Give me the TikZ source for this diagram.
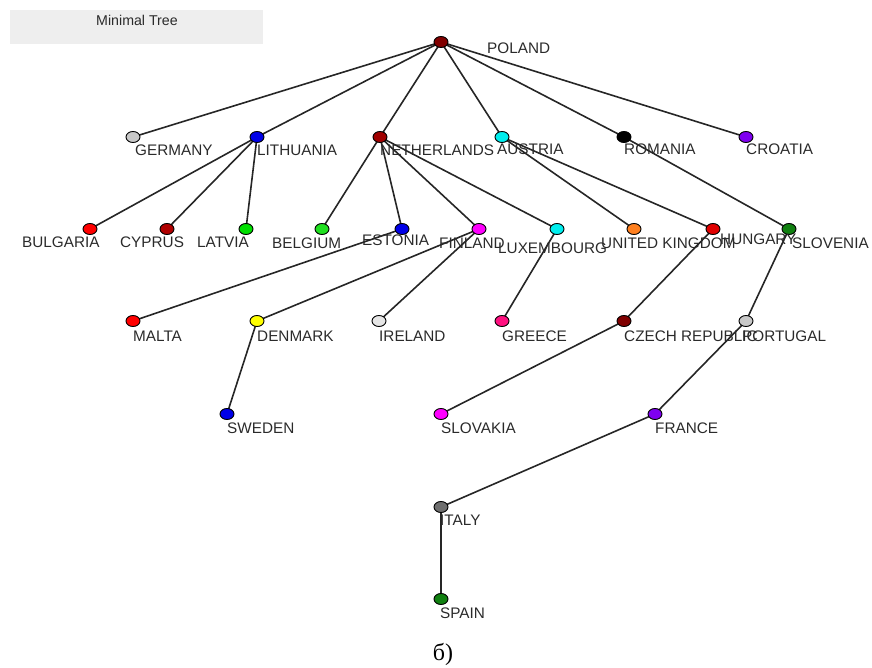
\documentclass[tikz,border=0pt]{standalone}
\usepackage{fontspec}
\setmainfont{Liberation Sans}
\newfontfamily\seriffont{Liberation Serif}
\usetikzlibrary{shapes.geometric}
\pgfdeclarelayer{bg}
\pgfsetlayers{bg,main}
\definecolor{labelgray}{HTML}{2A2A2A}
\definecolor{titlebg}{HTML}{EEEEEE}
\definecolor{cPol}{HTML}{800000}
\definecolor{cGer}{HTML}{C8C8C8}
\definecolor{cBlue}{HTML}{0000E8}
\definecolor{cNet}{HTML}{A00000}
\definecolor{cCyan}{HTML}{00EEEE}
\definecolor{cPurple}{HTML}{7F00F0}
\definecolor{cRed}{HTML}{FF0000}
\definecolor{cCyp}{HTML}{B00000}
\definecolor{cGreen}{HTML}{00E000}
\definecolor{cBel}{HTML}{20E020}
\definecolor{cMag}{HTML}{FF00FF}
\definecolor{cOrange}{HTML}{FF8020}
\definecolor{cHun}{HTML}{E00000}
\definecolor{cDkGreen}{HTML}{108010}
\definecolor{cYellow}{HTML}{FFFF00}
\definecolor{cIre}{HTML}{E6E6E6}
\definecolor{cGre}{HTML}{FF1080}
\definecolor{cIta}{HTML}{6E6E6E}
\begin{document}
\begin{tikzpicture}[x=1pt,y=-1pt,
  vtx/.style={ellipse,draw=black,line width=0.9pt,minimum width=14pt,minimum height=11pt,inner sep=0pt},
  lbl/.style={anchor=west,inner sep=0pt,text=labelgray,font=\fontsize{15.3}{15.3}\selectfont},
  edge/.style={line width=1.6pt,black!85}]
\useasboundingbox (0,0) rectangle (872,668);
% title box
\node[fill=titlebg,minimum width=253pt,minimum height=34pt,inner sep=0pt,anchor=north west] (titlebox) at (10,10) {};
\node[text=labelgray,font=\fontsize{14.2}{14.2}\selectfont,inner sep=0pt] (title) at (137,20) {Minimal Tree};
% vertices
\node[vtx,fill=cPol] (pol) at (441,42) {};
\node[vtx,fill=cGer] (ger) at (133,137) {};
\node[vtx,fill=cBlue] (lit) at (257,137) {};
\node[vtx,fill=cNet] (net) at (380,137) {};
\node[vtx,fill=cCyan] (aut) at (502,137) {};
\node[vtx,fill=black] (rom) at (624,137) {};
\node[vtx,fill=cPurple] (cro) at (746,137) {};
\node[vtx,fill=cRed] (bul) at (90,229) {};
\node[vtx,fill=cCyp] (cyp) at (167,229) {};
\node[vtx,fill=cGreen] (lat) at (246,229) {};
\node[vtx,fill=cBel] (bel) at (322,229) {};
\node[vtx,fill=cBlue] (est) at (402,229) {};
\node[vtx,fill=cMag] (fin) at (479,229) {};
\node[vtx,fill=cCyan] (lux) at (557,229) {};
\node[vtx,fill=cOrange] (uk) at (634,229) {};
\node[vtx,fill=cHun] (hun) at (713,229) {};
\node[vtx,fill=cDkGreen] (slo) at (789,229) {};
\node[vtx,fill=cRed] (mal) at (133,321) {};
\node[vtx,fill=cYellow] (den) at (257,321) {};
\node[vtx,fill=cIre] (ire) at (379,321) {};
\node[vtx,fill=cGre] (gre) at (502,321) {};
\node[vtx,fill=cPol] (cze) at (624,321) {};
\node[vtx,fill=cGer] (por) at (746,321) {};
\node[vtx,fill=cBlue] (swe) at (227,414) {};
\node[vtx,fill=cMag] (slk) at (441,414) {};
\node[vtx,fill=cPurple] (fra) at (655,414) {};
\node[vtx,fill=cIta] (ita) at (441,507) {};
\node[vtx,fill=cDkGreen] (spa) at (441,599) {};
% edges
\begin{pgfonlayer}{bg}
\foreach \a/\b in {pol/ger,pol/lit,pol/net,pol/aut,pol/rom,pol/cro,
  lit/bul,lit/cyp,lit/lat,net/bel,net/est,net/fin,net/lux,
  aut/uk,aut/hun,rom/slo,est/mal,fin/den,fin/ire,lux/gre,
  hun/cze,slo/por,den/swe,cze/slk,por/fra,fra/ita,ita/spa}
  \draw[edge] (\a.center) -- (\b.center);
\end{pgfonlayer}
% labels
\node[lbl] (lpol) at (487,48) {POLAND};
\node[lbl] (lger) at (135,150) {GERMANY};
\node[lbl] (llit) at (257,150) {LITHUANIA};
\node[lbl] (lnet) at (380,150) {NETHERLANDS};
\node[lbl] (laut) at (497,149) {AUSTRIA};
\node[lbl] (lrom) at (624,149) {ROMANIA};
\node[lbl] (lcro) at (746,149) {CROATIA};
\node[lbl] (lbul) at (22,242) {BULGARIA};
\node[lbl] (lcyp) at (120,242) {CYPRUS};
\node[lbl] (llat) at (197,242) {LATVIA};
\node[lbl] (lbel) at (272,243) {BELGIUM};
\node[lbl] (lest) at (362,240) {ESTONIA};
\node[lbl] (lfin) at (439,243) {FINLAND};
\node[lbl] (llux) at (498,248) {LUXEMBOURG};
\node[lbl] (luk) at (601,243) {UNITED KINGDOM};
\node[lbl] (lhun) at (720,239) {HUNGARY};
\node[lbl] (lslo) at (792,243) {SLOVENIA};
\node[lbl] (lmal) at (133,336) {MALTA};
\node[lbl] (lden) at (257,336) {DENMARK};
\node[lbl] (lire) at (379,336) {IRELAND};
\node[lbl] (lgre) at (502,336) {GREECE};
\node[lbl] (lcze) at (624,336) {CZECH REPUBLIC};
\node[lbl] (lpor) at (742,336) {PORTUGAL};
\node[lbl] (lswe) at (227,428) {SWEDEN};
\node[lbl] (lslk) at (441,428) {SLOVAKIA};
\node[lbl] (lfra) at (655,428) {FRANCE};
\node[lbl] (lita) at (440,520) {ITALY};
\node[lbl] (lspa) at (440,613) {SPAIN};
\node[inner sep=0pt,font=\seriffont\fontsize{24}{24}\selectfont] (cap) at (443,654) {б)};
\end{tikzpicture}
\end{document}
